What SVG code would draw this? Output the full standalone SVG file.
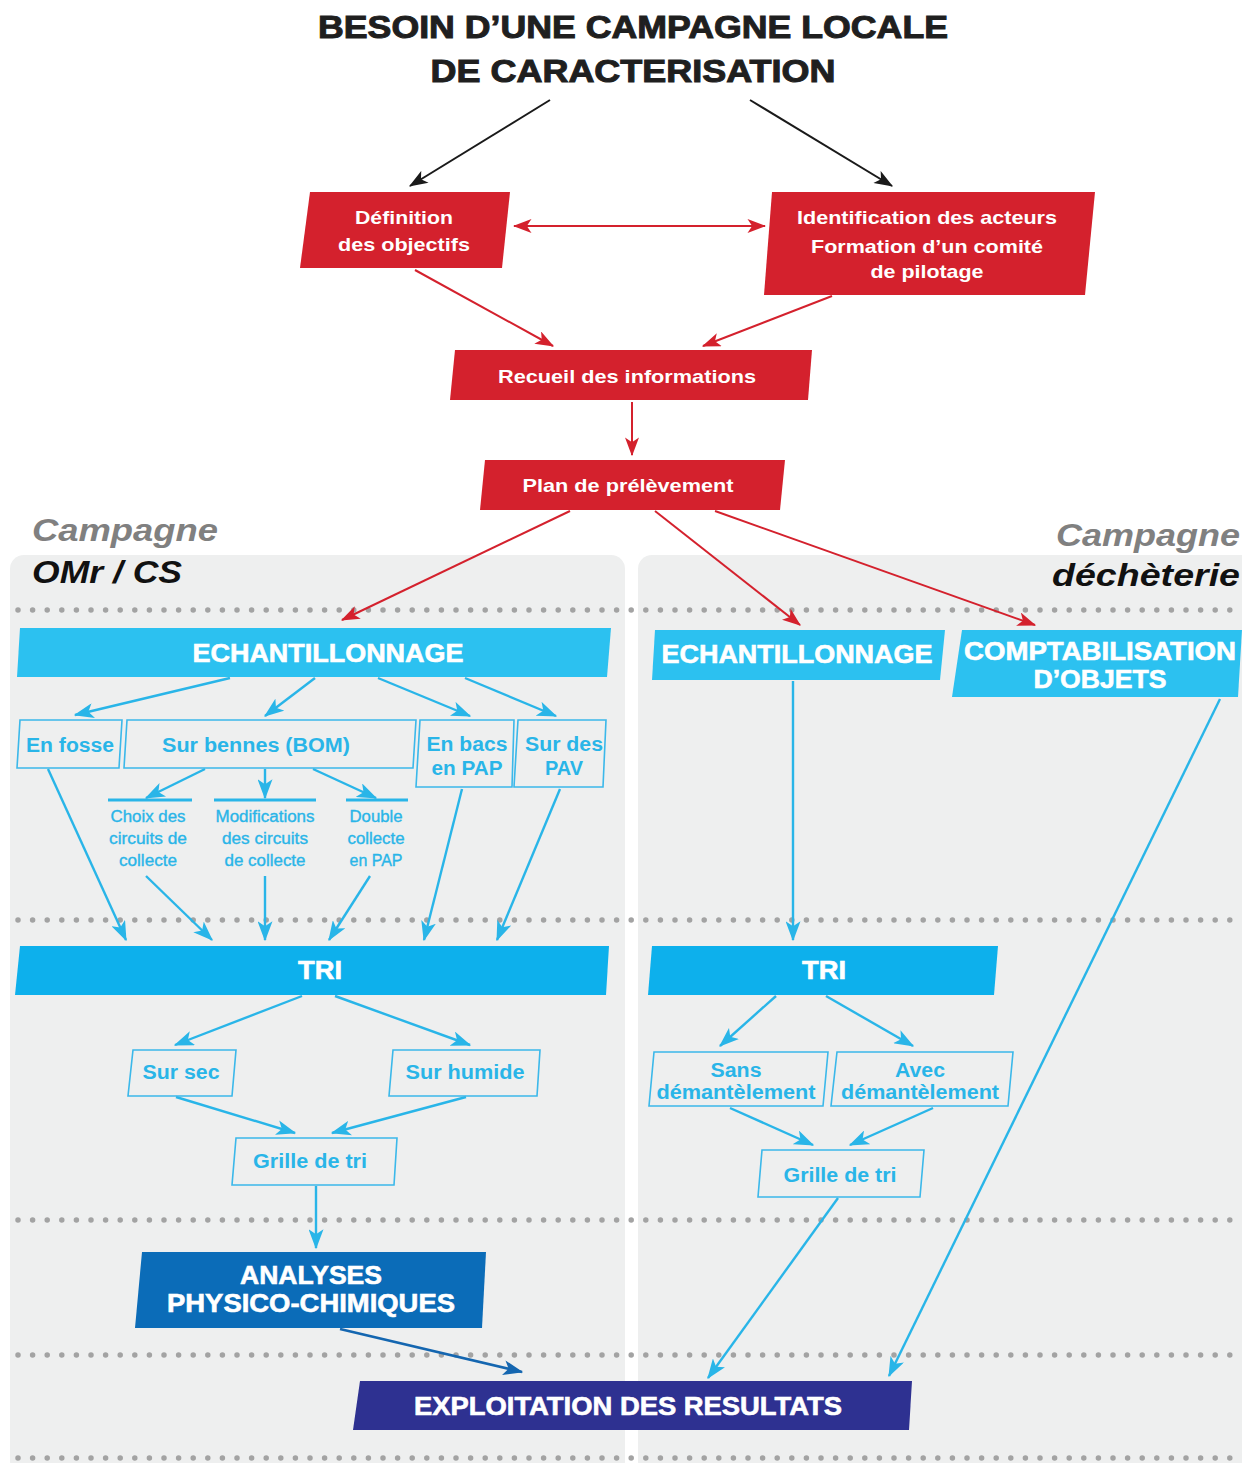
<svg xmlns="http://www.w3.org/2000/svg" width="1242" height="1463" viewBox="0 0 1242 1463">
<style>
.t{font-family:"Liberation Sans",Arial,sans-serif;font-weight:bold;text-anchor:middle}
.title{font-size:31px;fill:#1f1f1f;stroke:#1f1f1f;stroke-width:1}
.wr{font-size:19px;fill:#fff}
.wb{font-size:25px;fill:#fff;stroke:#fff;stroke-width:0.6}
.cy{font-size:20px;fill:#29b5e8}
.cs{font-size:16px;fill:#29b5e8;font-weight:normal;stroke:#29b5e8;stroke-width:0.35}
.red{fill:#d4212d}
.lb{fill:#2cc1f0}
.tri{fill:#0db0ec}
.box{fill:none;stroke:#3bb8ea;stroke-width:1.6}
.dot{stroke:#a3a3a3;stroke-width:5.5;stroke-linecap:round;stroke-dasharray:0 14.6}
.ck{stroke:#1a1a1a;stroke-width:2;fill:none}
.cr{stroke:#d4212d;stroke-width:2;fill:none}
.cc{stroke:#29b5e8;stroke-width:2.4;fill:none}
.cd{stroke:#1466b0;stroke-width:2.6;fill:none}
.camp{font-family:"Liberation Sans",Arial,sans-serif;font-weight:bold;font-style:italic;font-size:31px}
</style>
<defs>
<marker id="mk" viewBox="0 0 16 12" refX="15" refY="6" markerWidth="19" markerHeight="14" markerUnits="userSpaceOnUse" orient="auto-start-reverse"><path d="M0,0 L16,6 L0,12 L4,6 z" fill="#1a1a1a"/></marker>
<marker id="mr" viewBox="0 0 16 12" refX="15" refY="6" markerWidth="19" markerHeight="14" markerUnits="userSpaceOnUse" orient="auto-start-reverse"><path d="M0,0 L16,6 L0,12 L4,6 z" fill="#d4212d"/></marker>
<marker id="mc" viewBox="0 0 16 12" refX="15" refY="6" markerWidth="20" markerHeight="15" markerUnits="userSpaceOnUse" orient="auto-start-reverse"><path d="M0,0 L16,6 L0,12 L4,6 z" fill="#29b5e8"/></marker>
<marker id="md" viewBox="0 0 16 12" refX="15" refY="6" markerWidth="20" markerHeight="15" markerUnits="userSpaceOnUse" orient="auto-start-reverse"><path d="M0,0 L16,6 L0,12 L4,6 z" fill="#1466b0"/></marker>
</defs>
<rect width="1242" height="1463" fill="#ffffff"/>
<rect x="10" y="555" width="615" height="920" rx="14" fill="#eeefef"/>
<rect x="638" y="555" width="620" height="920" rx="14" fill="#eeefef"/>
<g id="dots">
<line class="dot" x1="18" y1="610" x2="1242" y2="610"/>
<line class="dot" x1="18" y1="920" x2="1242" y2="920"/>
<line class="dot" x1="18" y1="1220" x2="1242" y2="1220"/>
<line class="dot" x1="18" y1="1355" x2="1242" y2="1355"/>
<line class="dot" x1="18" y1="1458" x2="1242" y2="1458"/>
</g>
<g id="labels">
<text class="camp" x="32" y="541" fill="#808080" textLength="186" lengthAdjust="spacingAndGlyphs">Campagne</text>
<text class="camp" x="32" y="583" fill="#111" textLength="150" lengthAdjust="spacingAndGlyphs">OMr / CS</text>
<text class="camp" x="1056" y="546" fill="#808080" textLength="184" lengthAdjust="spacingAndGlyphs">Campagne</text>
<text class="camp" x="1052" y="586" fill="#111" textLength="188" lengthAdjust="spacingAndGlyphs">déchèterie</text>
</g>
<g id="title">
<text class="t title" x="633" y="38" textLength="630" lengthAdjust="spacingAndGlyphs">BESOIN D’UNE CAMPAGNE LOCALE</text>
<text class="t title" x="633" y="82" textLength="405" lengthAdjust="spacingAndGlyphs">DE CARACTERISATION</text>
</g>
<g id="connectors">
<line class="ck" x1="550" y1="100" x2="410" y2="186" marker-end="url(#mk)"/>
<line class="ck" x1="750" y1="100" x2="892" y2="186" marker-end="url(#mk)"/>
<line class="cr" x1="514" y1="226" x2="765" y2="226" marker-start="url(#mr)" marker-end="url(#mr)"/>
<line class="cr" x1="415" y1="270" x2="553" y2="346" marker-end="url(#mr)"/>
<line class="cr" x1="832" y1="296" x2="703" y2="346" marker-end="url(#mr)"/>
<line class="cr" x1="632" y1="402" x2="632" y2="455" marker-end="url(#mr)"/>
<line class="cr" x1="570" y1="511" x2="342" y2="620" marker-end="url(#mr)"/>
<line class="cr" x1="655" y1="511" x2="800" y2="625" marker-end="url(#mr)"/>
<line class="cr" x1="715" y1="511" x2="1035" y2="625" marker-end="url(#mr)"/>
<line class="cc" x1="230" y1="678" x2="75" y2="715" marker-end="url(#mc)"/>
<line class="cc" x1="315" y1="678" x2="265" y2="716" marker-end="url(#mc)"/>
<line class="cc" x1="378" y1="678" x2="470" y2="716" marker-end="url(#mc)"/>
<line class="cc" x1="465" y1="678" x2="556" y2="716" marker-end="url(#mc)"/>
<line class="cc" x1="205" y1="769" x2="146" y2="798" marker-end="url(#mc)"/>
<line class="cc" x1="265" y1="769" x2="265" y2="798" marker-end="url(#mc)"/>
<line class="cc" x1="313" y1="769" x2="376" y2="798" marker-end="url(#mc)"/>
<line class="cc" x1="48" y1="769" x2="126" y2="940" marker-end="url(#mc)"/>
<line class="cc" x1="146" y1="876" x2="212" y2="940" marker-end="url(#mc)"/>
<line class="cc" x1="265" y1="876" x2="265" y2="940" marker-end="url(#mc)"/>
<line class="cc" x1="370" y1="876" x2="329" y2="940" marker-end="url(#mc)"/>
<line class="cc" x1="462" y1="789" x2="424" y2="940" marker-end="url(#mc)"/>
<line class="cc" x1="560" y1="789" x2="497" y2="940" marker-end="url(#mc)"/>
<line class="cc" x1="302" y1="996" x2="175" y2="1045" marker-end="url(#mc)"/>
<line class="cc" x1="335" y1="996" x2="470" y2="1045" marker-end="url(#mc)"/>
<line class="cc" x1="176" y1="1097" x2="295" y2="1133" marker-end="url(#mc)"/>
<line class="cc" x1="466" y1="1097" x2="332" y2="1133" marker-end="url(#mc)"/>
<line class="cc" x1="316" y1="1186" x2="316" y2="1248" stroke-width="3.2" marker-end="url(#mc)"/>
<line class="cd" x1="340" y1="1329" x2="522" y2="1372" marker-end="url(#md)"/>
<line class="cc" x1="793" y1="681" x2="793" y2="940" marker-end="url(#mc)"/>
<line class="cc" x1="776" y1="996" x2="720" y2="1046" marker-end="url(#mc)"/>
<line class="cc" x1="826" y1="996" x2="913" y2="1046" marker-end="url(#mc)"/>
<line class="cc" x1="730" y1="1108" x2="813" y2="1145" marker-end="url(#mc)"/>
<line class="cc" x1="933" y1="1108" x2="850" y2="1145" marker-end="url(#mc)"/>
<line class="cc" x1="838" y1="1198" x2="708" y2="1378" marker-end="url(#mc)"/>
<line class="cc" x1="1220" y1="699" x2="889" y2="1376" marker-end="url(#mc)"/>
</g>
<g id="n-definition">
<polygon class="red" points="310,192 510,192 502,268 300,268"/>
<text class="t wr" x="404" y="224" textLength="98" lengthAdjust="spacingAndGlyphs">Définition</text>
<text class="t wr" x="404" y="251" textLength="132" lengthAdjust="spacingAndGlyphs">des objectifs</text>
</g>
<g id="n-identification">
<polygon class="red" points="772,192 1095,192 1085,295 764,295"/>
<text class="t wr" x="927" y="224" textLength="260" lengthAdjust="spacingAndGlyphs">Identification des acteurs</text>
<text class="t wr" x="927" y="253" textLength="232" lengthAdjust="spacingAndGlyphs">Formation d’un comité</text>
<text class="t wr" x="927" y="278" textLength="113" lengthAdjust="spacingAndGlyphs">de pilotage</text>
</g>
<g id="n-recueil">
<polygon class="red" points="455,350 812,350 808,400 450,400"/>
<text class="t wr" x="627" y="383" textLength="258" lengthAdjust="spacingAndGlyphs">Recueil des informations</text>
</g>
<g id="n-plan">
<polygon class="red" points="485,460 785,460 780,510 480,510"/>
<text class="t wr" x="628" y="492" textLength="211" lengthAdjust="spacingAndGlyphs">Plan de prélèvement</text>
</g>
<g id="n-echant-l">
<polygon class="lb" points="20,628 611,628 607,677 17,677"/>
<text class="t wb" x="328" y="662" textLength="271" lengthAdjust="spacingAndGlyphs">ECHANTILLONNAGE</text>
</g>
<g id="n-fosse">
<polygon class="box" points="20,720 122,720 119,768 17,768"/>
<text class="t cy" x="70" y="752" textLength="88" lengthAdjust="spacingAndGlyphs">En fosse</text>
</g>
<g id="n-bennes">
<polygon class="box" points="127,720 416,720 413,768 124,768"/>
<text class="t cy" x="256" y="752" textLength="188" lengthAdjust="spacingAndGlyphs">Sur bennes (BOM)</text>
</g>
<g id="n-bacs">
<polygon class="box" points="420,720 514,720 512,787 416,787"/>
<text class="t cy" x="467" y="751" textLength="81" lengthAdjust="spacingAndGlyphs">En bacs</text>
<text class="t cy" x="467" y="775" textLength="71" lengthAdjust="spacingAndGlyphs">en PAP</text>
</g>
<g id="n-pav">
<polygon class="box" points="518,720 606,720 603,787 514,787"/>
<text class="t cy" x="564" y="751" textLength="78" lengthAdjust="spacingAndGlyphs">Sur des</text>
<text class="t cy" x="564" y="775" textLength="38" lengthAdjust="spacingAndGlyphs">PAV</text>
</g>
<g id="n-choix">
<line x1="108" y1="800" x2="192" y2="800" stroke="#29b5e8" stroke-width="3"/>
<text class="t cs" x="148" y="822" textLength="75" lengthAdjust="spacingAndGlyphs">Choix des</text>
<text class="t cs" x="148" y="844" textLength="78" lengthAdjust="spacingAndGlyphs">circuits de</text>
<text class="t cs" x="148" y="866" textLength="58" lengthAdjust="spacingAndGlyphs">collecte</text>
</g>
<g id="n-modif">
<line x1="214" y1="800" x2="316" y2="800" stroke="#29b5e8" stroke-width="3"/>
<text class="t cs" x="265" y="822" textLength="99" lengthAdjust="spacingAndGlyphs">Modifications</text>
<text class="t cs" x="265" y="844" textLength="86" lengthAdjust="spacingAndGlyphs">des circuits</text>
<text class="t cs" x="265" y="866" textLength="81" lengthAdjust="spacingAndGlyphs">de collecte</text>
</g>
<g id="n-double">
<line x1="346" y1="800" x2="408" y2="800" stroke="#29b5e8" stroke-width="3"/>
<text class="t cs" x="376" y="822" textLength="53" lengthAdjust="spacingAndGlyphs">Double</text>
<text class="t cs" x="376" y="844" textLength="57" lengthAdjust="spacingAndGlyphs">collecte</text>
<text class="t cs" x="376" y="866" textLength="53" lengthAdjust="spacingAndGlyphs">en PAP</text>
</g>
<g id="n-tri-l">
<polygon class="tri" points="20,946 609,946 606,995 15,995"/>
<text class="t wb" x="320" y="979" textLength="44" lengthAdjust="spacingAndGlyphs">TRI</text>
</g>
<g id="n-sec">
<polygon class="box" points="133,1050 236,1050 232,1096 128,1096"/>
<text class="t cy" x="181" y="1079" textLength="77" lengthAdjust="spacingAndGlyphs">Sur sec</text>
</g>
<g id="n-humide">
<polygon class="box" points="393,1050 540,1050 537,1096 389,1096"/>
<text class="t cy" x="465" y="1079" textLength="119" lengthAdjust="spacingAndGlyphs">Sur humide</text>
</g>
<g id="n-grille-l">
<polygon class="box" points="236,1138 397,1138 394,1185 232,1185"/>
<text class="t cy" x="310" y="1168" textLength="114" lengthAdjust="spacingAndGlyphs">Grille de tri</text>
</g>
<g id="n-analyses">
<polygon points="142,1252 486,1252 482,1328 135,1328" fill="#0b6cb8"/>
<text class="t wb" x="311" y="1284" textLength="142" lengthAdjust="spacingAndGlyphs">ANALYSES</text>
<text class="t wb" x="311" y="1312" textLength="288" lengthAdjust="spacingAndGlyphs">PHYSICO-CHIMIQUES</text>
</g>
<g id="n-exploitation">
<polygon points="360,1381 912,1381 909,1430 353,1430" fill="#2e3191"/>
<text class="t wb" x="628" y="1415" textLength="428" lengthAdjust="spacingAndGlyphs">EXPLOITATION DES RESULTATS</text>
</g>
<g id="n-echant-r">
<polygon class="lb" points="655,630 945,630 940,680 652,680"/>
<text class="t wb" x="797" y="663" textLength="271" lengthAdjust="spacingAndGlyphs">ECHANTILLONNAGE</text>
</g>
<g id="n-compta">
<polygon class="lb" points="962,630 1242,630 1238,697 952,697"/>
<text class="t wb" x="1100" y="660" textLength="272" lengthAdjust="spacingAndGlyphs">COMPTABILISATION</text>
<text class="t wb" x="1100" y="688" textLength="133" lengthAdjust="spacingAndGlyphs">D’OBJETS</text>
</g>
<g id="n-tri-r">
<polygon class="tri" points="652,946 998,946 994,995 648,995"/>
<text class="t wb" x="824" y="979" textLength="44" lengthAdjust="spacingAndGlyphs">TRI</text>
</g>
<g id="n-sans">
<polygon class="box" points="654,1052 828,1052 823,1106 649,1106"/>
<text class="t cy" x="736" y="1077" textLength="51" lengthAdjust="spacingAndGlyphs">Sans</text>
<text class="t cy" x="736" y="1099" textLength="159" lengthAdjust="spacingAndGlyphs">démantèlement</text>
</g>
<g id="n-avec">
<polygon class="box" points="837,1052 1013,1052 1008,1106 831,1106"/>
<text class="t cy" x="920" y="1077" textLength="50" lengthAdjust="spacingAndGlyphs">Avec</text>
<text class="t cy" x="920" y="1099" textLength="158" lengthAdjust="spacingAndGlyphs">démantèlement</text>
</g>
<g id="n-grille-r">
<polygon class="box" points="762,1150 924,1150 920,1197 758,1197"/>
<text class="t cy" x="840" y="1182" textLength="113" lengthAdjust="spacingAndGlyphs">Grille de tri</text>
</g>
</svg>
